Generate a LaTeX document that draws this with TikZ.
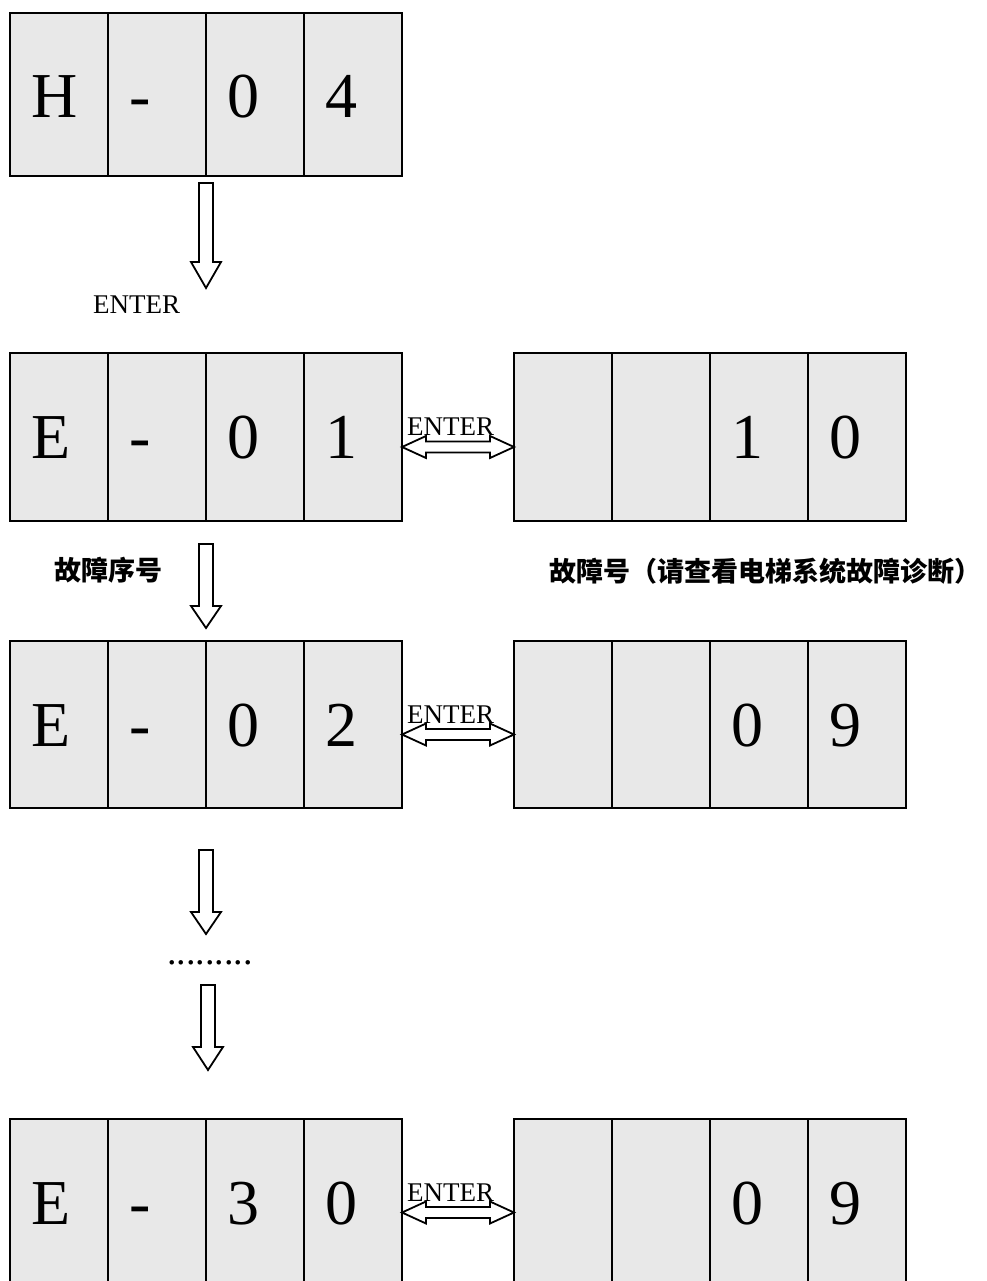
\documentclass[tikz,border=0pt]{standalone}
\usepackage{fontspec}
\setmainfont{Liberation Serif}
\newfontfamily\cjk{Noto Sans CJK SC}
\usetikzlibrary{calc}
\definecolor{cellgray}{HTML}{E8E8E8}
\tikzset{
  dispcell/.style={draw=black, fill=cellgray, line width=1.7pt, minimum width=98pt,
    minimum height=#1, inner sep=0pt, outer sep=0pt, anchor=north west},
  bigtxt/.style={font=\fontsize{64}{64}\selectfont, inner sep=0pt, anchor=base west},
  keytxt/.style={font=\fontsize{27}{27}\selectfont, inner sep=0pt, anchor=base west},
  cjktxt/.style={font=\cjk\bfseries\fontsize{27}{27}\selectfont, inner sep=0pt},
  blockarrow/.style={draw=black, fill=white, line width=1.8pt, line join=miter}
}
% vertical block arrow: #1 start coordinate, #2 tip coordinate, #3 head length
\newcommand{\vblock}[3]{%
  \draw[blockarrow] let \p1=(#1), \p2=(#2) in
    (\x1-7pt,\y1) -- (\x1+7pt,\y1) -- (\x1+7pt,\y2+#3) -- (\x1+15pt,\y2+#3)
    -- (\x2,\y2) -- (\x1-15pt,\y2+#3) -- (\x1-7pt,\y2+#3) -- cycle;}
% horizontal double block arrow between coordinates #1 (left tip) and #2 (right tip)
\newcommand{\hblock}[2]{%
  \draw[blockarrow] let \p1=(#1), \p2=(#2) in
    (\x1,\y1) -- (\x1+24pt,\y1+11pt) -- (\x1+24pt,\y1+5.5pt) -- (\x2-24pt,\y1+5.5pt)
    -- (\x2-24pt,\y1+11pt) -- (\x2,\y1) -- (\x2-24pt,\y1-11pt) -- (\x2-24pt,\y1-5.5pt)
    -- (\x1+24pt,\y1-5.5pt) -- (\x1+24pt,\y1-11pt) -- cycle;}
\begin{document}
\begin{tikzpicture}[x=1pt,y=-1pt]
\useasboundingbox (0,0) rectangle (986,1281);
\clip (0,0) rectangle (986,1281);

% ---------- cells ----------
\foreach \r/\top/\h in {1/13/163, 2/353/168, 3/641/167, 4/1119/167}{
  \foreach \i/\x in {1/10,2/108,3/206,4/304}{
    \node[dispcell=\h pt] (r\r a\i) at (\x,\top) {};
  }
}
\foreach \r/\top/\h in {2/353/168, 3/641/167, 4/1119/167}{
  \foreach \i/\x in {1/514,2/612,3/710,4/808}{
    \node[dispcell=\h pt] (r\r b\i) at (\x,\top) {};
  }
}

% ---------- digits ----------
\node[bigtxt] (t1a1) at ($(r1a1.north west)+(21,105)$) {H};
\node[bigtxt] (t1a2) at ($(r1a2.north west)+(21,105)$) {-};
\node[bigtxt] (t1a3) at ($(r1a3.north west)+(21,105)$) {0};
\node[bigtxt] (t1a4) at ($(r1a4.north west)+(21,105)$) {4};

\node[bigtxt] (t2a1) at ($(r2a1.north west)+(21,105)$) {E};
\node[bigtxt] (t2a2) at ($(r2a2.north west)+(21,105)$) {-};
\node[bigtxt] (t2a3) at ($(r2a3.north west)+(21,105)$) {0};
\node[bigtxt] (t2a4) at ($(r2a4.north west)+(21,105)$) {1};
\node[bigtxt] (t2b3) at ($(r2b3.north west)+(21,105)$) {1};
\node[bigtxt] (t2b4) at ($(r2b4.north west)+(21,105)$) {0};

\node[bigtxt] (t3a1) at ($(r3a1.north west)+(21,105)$) {E};
\node[bigtxt] (t3a2) at ($(r3a2.north west)+(21,105)$) {-};
\node[bigtxt] (t3a3) at ($(r3a3.north west)+(21,105)$) {0};
\node[bigtxt] (t3a4) at ($(r3a4.north west)+(21,105)$) {2};
\node[bigtxt] (t3b3) at ($(r3b3.north west)+(21,105)$) {0};
\node[bigtxt] (t3b4) at ($(r3b4.north west)+(21,105)$) {9};

\node[bigtxt] (t4a1) at ($(r4a1.north west)+(21,105)$) {E};
\node[bigtxt] (t4a2) at ($(r4a2.north west)+(21,105)$) {-};
\node[bigtxt] (t4a3) at ($(r4a3.north west)+(21,105)$) {3};
\node[bigtxt] (t4a4) at ($(r4a4.north west)+(21,105)$) {0};
\node[bigtxt] (t4b3) at ($(r4b3.north west)+(21,105)$) {0};
\node[bigtxt] (t4b4) at ($(r4b4.north west)+(21,105)$) {9};

% ---------- vertical arrows ----------
\coordinate (v1s) at (206,183);  \coordinate (v1e) at (206,288);
\coordinate (v2s) at (206,544);  \coordinate (v2e) at (206,628);
\coordinate (v3s) at (206,850);  \coordinate (v3e) at (206,934);
\coordinate (v4s) at (208,985);  \coordinate (v4e) at (208,1070);
\vblock{v1s}{v1e}{26pt}
\vblock{v2s}{v2e}{22pt}
\vblock{v3s}{v3e}{22pt}
\vblock{v4s}{v4e}{23pt}

\node[keytxt] (enter1) at (93,313) {ENTER};
\node[font=\fontsize{38}{38}\selectfont, inner sep=0pt, anchor=base west] (dots) at (167,964) {.........};

% ---------- horizontal double arrows ----------
\foreach \r in {2,3,4}{
  \coordinate (h\r l) at ($(r\r a4.east)+(0,10)$);
  \coordinate (h\r r) at ($(r\r b1.west)+(0,10)$);
  \hblock{h\r l}{h\r r}
  \node[keytxt] (enter\r) at ($(r\r a4.north east)+(5,82)$) {ENTER};
}

% ---------- labels ----------
\node[cjktxt] (lab1) at (108,570) {故障序号};
\node[cjktxt] (lab2) at (765,571) {故障号（请查看电梯系统故障诊断）};
\end{tikzpicture}
\end{document}
